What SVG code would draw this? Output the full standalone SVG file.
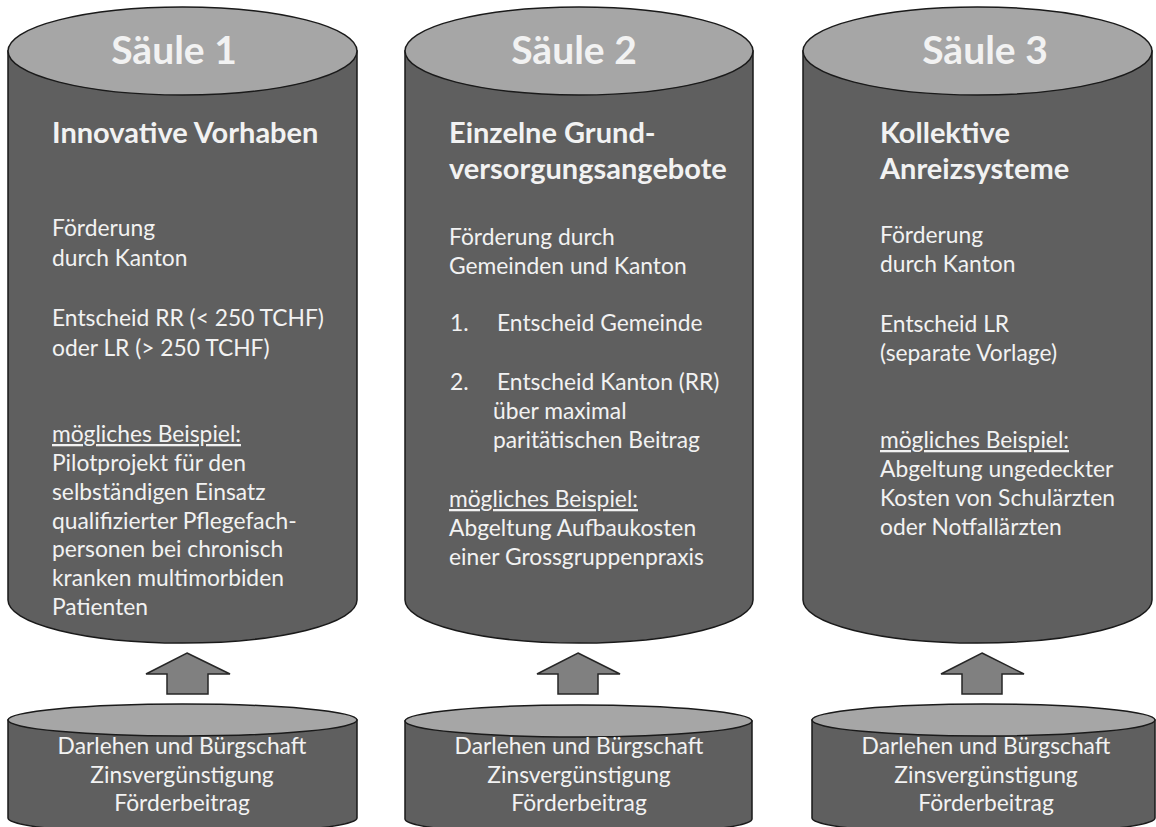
<svg xmlns="http://www.w3.org/2000/svg" width="1156" height="827" viewBox="0 0 1156 827">
<style>
.body{fill:#5f5f5f;stroke:#1a1a1a;stroke-width:1.5}
.cap{fill:#a6a6a6;stroke:#1a1a1a;stroke-width:1.5}
.arrow{fill:#808080;stroke:#262626;stroke-width:1.5}
.t{font-family:Lato,"Open Sans",sans-serif;fill:#f2f2f2}
.title{font-size:39px;font-weight:bold;text-anchor:middle}
.head{font-size:29px;font-weight:bold}
.txt{font-size:22.8px}
.mid{text-anchor:middle}
.u{text-decoration:underline}
</style>
<rect width="1156" height="827" fill="#ffffff"/>
<g id="saeule1">
<path class="body" d="M8 51 V600 A174.5 43 0 0 0 357 600 V51 Z"/>
<ellipse class="cap" cx="182.5" cy="51" rx="174.5" ry="44"/>
<text class="t title" x="174" y="64">Säule 1</text>
<text class="t head" x="52" y="143">Innovative Vorhaben</text>
<text class="t txt" x="52" y="236">Förderung</text>
<text class="t txt" x="52" y="266">durch Kanton</text>
<text class="t txt" x="52" y="326">Entscheid RR (&lt; 250 TCHF)</text>
<text class="t txt" x="52" y="356">oder LR (&gt; 250 TCHF)</text>
<text class="t txt u" x="52" y="442">mögliches Beispiel:</text>
<text class="t txt" x="52" y="471">Pilotprojekt für den</text>
<text class="t txt" x="52" y="500">selbständigen Einsatz</text>
<text class="t txt" x="52" y="529">qualifizierter Pflegefach-</text>
<text class="t txt" x="52" y="557">personen bei chronisch</text>
<text class="t txt" x="52" y="586">kranken multimorbiden</text>
<text class="t txt" x="52" y="615">Patienten</text>
</g>
<g id="saeule2">
<path class="body" d="M405 51 V600 A174 43 0 0 0 753 600 V51 Z"/>
<ellipse class="cap" cx="579" cy="51" rx="174" ry="44"/>
<text class="t title" x="574" y="64">Säule 2</text>
<text class="t head" x="449" y="143">Einzelne Grund-</text>
<text class="t head" x="449" y="179">versorgungsangebote</text>
<text class="t txt" x="449" y="245">Förderung durch</text>
<text class="t txt" x="449" y="274">Gemeinden und Kanton</text>
<text class="t txt" x="450" y="331">1.</text>
<text class="t txt" x="497" y="331">Entscheid Gemeinde</text>
<text class="t txt" x="450" y="390">2.</text>
<text class="t txt" x="497" y="390">Entscheid Kanton (RR)</text>
<text class="t txt" x="493" y="419">über maximal</text>
<text class="t txt" x="493" y="448">paritätischen Beitrag</text>
<text class="t txt u" x="449" y="507">mögliches Beispiel:</text>
<text class="t txt" x="449" y="536">Abgeltung Aufbaukosten</text>
<text class="t txt" x="449" y="565">einer Grossgruppenpraxis</text>
</g>
<g id="saeule3">
<path class="body" d="M803 51 V600 A174.5 43 0 0 0 1152 600 V51 Z"/>
<ellipse class="cap" cx="977.5" cy="51" rx="174.5" ry="44"/>
<text class="t title" x="985" y="64">Säule 3</text>
<text class="t head" x="880" y="143">Kollektive</text>
<text class="t head" x="880" y="179">Anreizsysteme</text>
<text class="t txt" x="880" y="243">Förderung</text>
<text class="t txt" x="880" y="272">durch Kanton</text>
<text class="t txt" x="880" y="332">Entscheid LR</text>
<text class="t txt" x="880" y="361">(separate Vorlage)</text>
<text class="t txt u" x="880" y="448">mögliches Beispiel:</text>
<text class="t txt" x="880" y="477">Abgeltung ungedeckter</text>
<text class="t txt" x="880" y="506">Kosten von Schulärzten</text>
<text class="t txt" x="880" y="535">oder Notfallärzten</text>
</g>
<g id="basis1">
<path class="body" d="M8 720 V818 A174.5 16 0 0 0 357 818 V720 Z"/>
<ellipse class="cap" cx="182.5" cy="720" rx="174.5" ry="16"/>
<text class="t txt mid" x="182" y="754">Darlehen und Bürgschaft</text>
<text class="t txt mid" x="182" y="783">Zinsvergünstigung</text>
<text class="t txt mid" x="182" y="811">Förderbeitrag</text>
</g>
<g id="basis2">
<path class="body" d="M405 721 V819 A173.5 16 0 0 0 752 819 V721 Z"/>
<ellipse class="cap" cx="578.5" cy="721" rx="173.5" ry="16"/>
<text class="t txt mid" x="579" y="754">Darlehen und Bürgschaft</text>
<text class="t txt mid" x="579" y="783">Zinsvergünstigung</text>
<text class="t txt mid" x="579" y="811">Förderbeitrag</text>
</g>
<g id="basis3">
<path class="body" d="M812 720 V818 A171.5 16 0 0 0 1155 818 V720 Z"/>
<ellipse class="cap" cx="983.5" cy="720" rx="171.5" ry="16"/>
<text class="t txt mid" x="986" y="754">Darlehen und Bürgschaft</text>
<text class="t txt mid" x="986" y="783">Zinsvergünstigung</text>
<text class="t txt mid" x="986" y="811">Förderbeitrag</text>
</g>
<g id="connectors">
<path class="arrow" d="M187 653 L230 674 H208 V694 H167 V674 H146 Z"/>
<path class="arrow" d="M578 653 L620 674 H598 V694 H558 V674 H537 Z"/>
<path class="arrow" d="M982 653 L1024 674 H1002 V694 H962 V674 H941 Z"/>
</g>
</svg>
